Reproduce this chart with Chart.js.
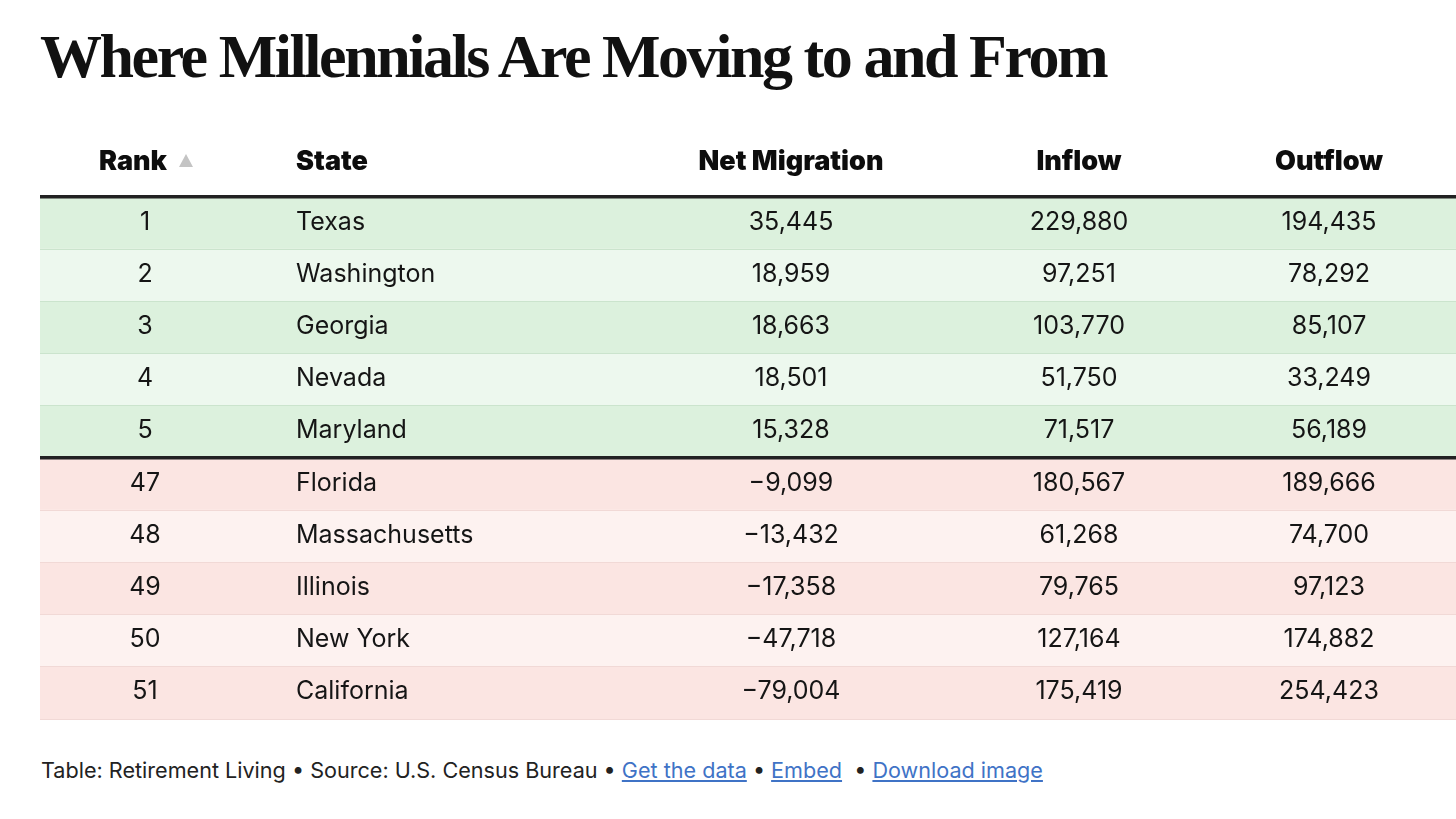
<!DOCTYPE html>
<html>
<head>
<meta charset="utf-8">
<script src="https://cdn.jsdelivr.net/npm/chart.js@4"></script>
<style>
  html, body { margin: 0; padding: 0; background: #fff; width: 1456px; height: 819px; overflow: hidden; }
  h1 {
    position: absolute; left: 40px; top: 18px; margin: 0;
    font-family: "Liberation Serif", serif; font-weight: bold;
    font-size: 62px; letter-spacing: -2.45px; color: #111; line-height: 76px;
  }
  #box { position: absolute; left: 40px; top: 120px; width: 1416px; height: 602px; }
  #foot {
    position: absolute; left: 41px; top: 757px;
    font-family: Inter, "Noto Sans", sans-serif; font-size: 21.6px; color: #222;
  }
  #foot a { color: #3f73c6; text-decoration: underline; }
</style>
</head>
<body>
<h1>Where Millennials Are Moving to and From</h1>
<div id="box"><canvas id="table1"></canvas></div>
<div id="foot">Table: Retirement Living • Source: U.S. Census Bureau • <a>Get the data</a> • <a>Embed</a> &nbsp;• <a>Download image</a></div>
<script>
// table data
const ranks = [1, 2, 3, 4, 5, 47, 48, 49, 50, 51];
const states = ['Texas', 'Washington', 'Georgia', 'Nevada', 'Maryland', 'Florida', 'Massachusetts', 'Illinois', 'New York', 'California'];
const netMigration = [35445, 18959, 18663, 18501, 15328, -9099, -13432, -17358, -47718, -79004];
const inflow = [229880, 97251, 103770, 51750, 71517, 180567, 61268, 79765, 127164, 175419];
const outflow = [194435, 78292, 85107, 33249, 56189, 189666, 74700, 97123, 174882, 254423];
const headers = ['Rank', 'State', 'Net Migration', 'Inflow', 'Outflow'];

const W = 1416; // table width on the x scale
const col = { rank: 105, rankHead: 93, arrow: 146, state: 256, net: 751, inflow: 1039, outflow: 1289 };

const rowColors = ranks.map((r, i) => {
  if (i < 5) return i % 2 == 0 ? '#dcf1dd' : '#edf8ee';
  return (i - 5) % 2 == 0 ? '#fbe5e2' : '#fdf2f0';
});

function fmt(n) {
  return n.toLocaleString('en-US').replace('-', '\u2212');
}

const textPlugin = {
  id: 'cells',
  afterDatasetsDraw(chart) {
    const c = chart.ctx;
    const x = chart.scales.x, y = chart.scales.y;
    c.save();
    c.textBaseline = 'middle';
    // header
    const hy = chart.chartArea.top - 35;
    c.fillStyle = '#0d0d0d';
    c.font = '900 27px Inter, sans-serif';
    c.textAlign = 'center';
    c.fillText(headers[0], x.getPixelForValue(col.rankHead), hy);
    c.textAlign = 'left';
    c.fillText(headers[1], x.getPixelForValue(col.state), hy);
    c.textAlign = 'center';
    c.fillText(headers[2], x.getPixelForValue(col.net), hy);
    c.fillText(headers[3], x.getPixelForValue(col.inflow), hy);
    c.fillText(headers[4], x.getPixelForValue(col.outflow), hy);
    // little sort arrow
    const ax = x.getPixelForValue(col.arrow);
    c.fillStyle = '#c4c4c4';
    c.beginPath();
    c.moveTo(ax - 7, hy + 5);
    c.lineTo(ax + 7, hy + 5);
    c.lineTo(ax, hy - 8);
    c.closePath();
    c.fill();
    // rows
    c.fillStyle = '#151515';
    c.font = '400 25px Inter, sans-serif';
    states.forEach((s, i) => {
      const py = y.getPixelForValue(i) - 1;
      c.textAlign = 'center';
      c.fillText(String(ranks[i]), x.getPixelForValue(col.rank), py);
      c.textAlign = 'left';
      c.fillText(s, x.getPixelForValue(col.state), py);
      c.textAlign = 'center';
      c.fillText(fmt(netMigration[i]), x.getPixelForValue(col.net), py);
      c.fillText(fmt(inflow[i]), x.getPixelForValue(col.inflow), py);
      c.fillText(fmt(outflow[i]), x.getPixelForValue(col.outflow), py);
    });
    c.restore();
  }
};

const config = {
  type: 'bar',
  data: {
    labels: states,
    datasets: [{
      data: states.map(() => W),
      backgroundColor: rowColors,
      borderWidth: 0,
      barPercentage: 1,
      categoryPercentage: 1
    }]
  },
  options: {
    indexAxis: 'y',
    responsive: true,
    maintainAspectRatio: false,
    animation: false,
    events: [],
    layout: { padding: { top: 77, bottom: 3, left: 0, right: 0 } },
    plugins: { legend: { display: false }, tooltip: { enabled: false } },
    scales: {
      x: { type: 'linear', min: 0, max: W, display: false },
      y: {
        type: 'category',
        offset: true,
        border: { display: false },
        ticks: { display: false, padding: 0 },
        afterFit(scale) { scale.width = 0; },
        grid: {
          offset: true,
          z: 1,
          drawTicks: false,
          lineWidth: (ctx) => {
            if (ctx.index == 0 || ctx.index == 5) return 3.5;
            if (ctx.index >= 10) return 0;
            return 1;
          },
          color: (ctx) => {
            if (ctx.index == 0 || ctx.index == 5) return '#222';
            return ctx.index < 5 ? '#cbe4cd' : '#f1d9d6';
          }
        }
      }
    }
  },
  plugins: [textPlugin]
};

const table1 = new Chart(document.getElementById('table1'), config);
</script>
</body>
</html>
